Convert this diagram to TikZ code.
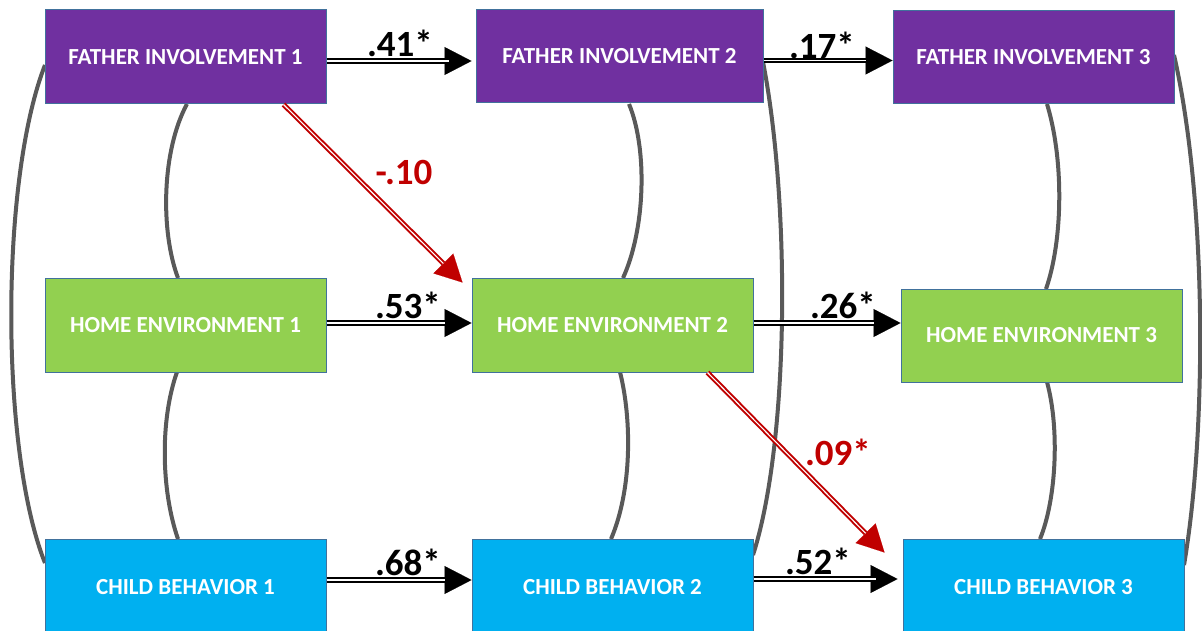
\documentclass[tikz,border=0pt]{standalone}
\usepackage{fontspec}
\setmainfont{Carlito}
\usetikzlibrary{arrows.meta,calc}
\definecolor{fipurple}{HTML}{7030A0}
\definecolor{hegreen}{HTML}{92D050}
\definecolor{cbblue}{HTML}{00B0F0}
\definecolor{boxedge}{HTML}{41719C}
\definecolor{corrgrey}{HTML}{595959}
\definecolor{pathred}{HTML}{C00000}
\tikzset{
  box/.style={draw=boxedge, line width=1pt, minimum width=281pt, minimum height=94pt, inner sep=0pt,
    text=white, font=\fontsize{23}{25}\selectfont\bfseries},
  arr/.style={draw=black, line width=5.5pt,
    -{Triangle[length=27pt,width=28pt,line width=0.1pt]},
    postaction={draw=white, line width=1.2pt, -, shorten >=27pt}},
  redarr/.style={draw=pathred, line width=5pt,
    -{Triangle[length=27pt,width=28pt,line width=0.1pt]},
    postaction={draw=white, line width=1.1pt, -, shorten >=27pt}},
  corr/.style={draw=corrgrey, line width=4pt},
  lab/.style={font=\fontsize{37}{40}\selectfont\bfseries, inner sep=0pt},
}
\begin{document}
\begin{tikzpicture}[x=1pt,y=-1pt]
\useasboundingbox[fill=white] (0,0) rectangle (1202,631);
% correlation curves (behind boxes)
\draw[corr] (45,65) .. controls (0,180) and (0,450) .. (45,563);
\draw[corr] (187,104) .. controls (162,150) and (160,230) .. (178,278);
\draw[corr] (177,372) .. controls (160,420) and (161,490) .. (178,539);
\draw[corr] (629,104) .. controls (648,150) and (645,230) .. (623,278);
\draw[corr] (620,372) .. controls (632,420) and (632,490) .. (611,539);
\draw[corr] (763,62) .. controls (790,200) and (790,440) .. (753,555);
\draw[corr] (1047,104) .. controls (1064,160) and (1063,240) .. (1046,289);
\draw[corr] (1047,382) .. controls (1060,430) and (1056,500) .. (1040,539);
\draw[corr] (1174,55) .. controls (1207,200) and (1207,430) .. (1184,565);
% boxes
\node[box, fill=fipurple] (fi1) at (185.5,57) {FATHER INVOLVEMENT 1};
\node[box, fill=fipurple, minimum width=287pt, minimum height=93pt] (fi2) at (619.5,56.5) {FATHER INVOLVEMENT 2};
\node[box, fill=fipurple, minimum height=93pt] (fi3) at (1033.5,57.5) {FATHER INVOLVEMENT 3};
\node[box, fill=hegreen] (he1) at (185.5,325) {HOME ENVIRONMENT 1};
\node[box, fill=hegreen] (he2) at (612.5,325) {HOME ENVIRONMENT 2};
\node[box, fill=hegreen, minimum height=93pt] (he3) at (1041.5,335.5) {HOME ENVIRONMENT 3};
\node[box, fill=cbblue, minimum height=96pt] (cb1) at (185.5,587) {CHILD BEHAVIOR 1};
\node[box, fill=cbblue, minimum height=96pt] (cb2) at (612.5,587) {CHILD BEHAVIOR 2};
\node[box, fill=cbblue, minimum height=96pt] (cb3) at (1043.5,587) {CHILD BEHAVIOR 3};
% paths
\draw[arr, shorten >=4pt] ([yshift=-4pt]fi1.east) -- ([yshift=-4pt]fi1.east -| fi2.west);
\draw[arr] ([yshift=-4pt]fi2.east) -- ([yshift=-4pt]fi2.east -| fi3.west);
\draw[arr] ([yshift=2pt]he1.east) -- ([yshift=2pt]he1.east -| he2.west);
\draw[arr] ([yshift=2pt]he2.east) -- ([yshift=2pt]he2.east -| he3.west);
\draw[arr] ([yshift=7pt]cb1.east) -- ([yshift=7pt]cb1.east -| cb2.west);
\draw[arr, shorten >=5pt] ([yshift=8pt]cb2.east) -- ([yshift=8pt]cb2.east -| cb3.west);
\coordinate (r1s) at ($(fi1.south west)+(239,0)$);
\coordinate (r1e) at ($(he2.north west)+(-9,5)$);
\draw[redarr] (r1s) -- (r1e);
\coordinate (r2s) at ($(he2.south west)+(236,0)$);
\coordinate (r2e) at ($(cb3.north west)+(-18,14)$);
\draw[redarr] (r2s) -- (r2e);
% labels
\node[lab] (l41) at (400,43) {.41*};
\node[lab] (l17) at (822,45) {.17*};
\node[lab, text=pathred] (l10) at (404,172) {-.10};
\node[lab] (l53) at (408,305) {.53*};
\node[lab] (l26) at (843,305) {.26*};
\node[lab, text=pathred] (l09) at (838,452) {.09*};
\node[lab] (l68) at (408,562) {.68*};
\node[lab] (l52) at (818,561) {.52*};
\end{tikzpicture}
\end{document}
